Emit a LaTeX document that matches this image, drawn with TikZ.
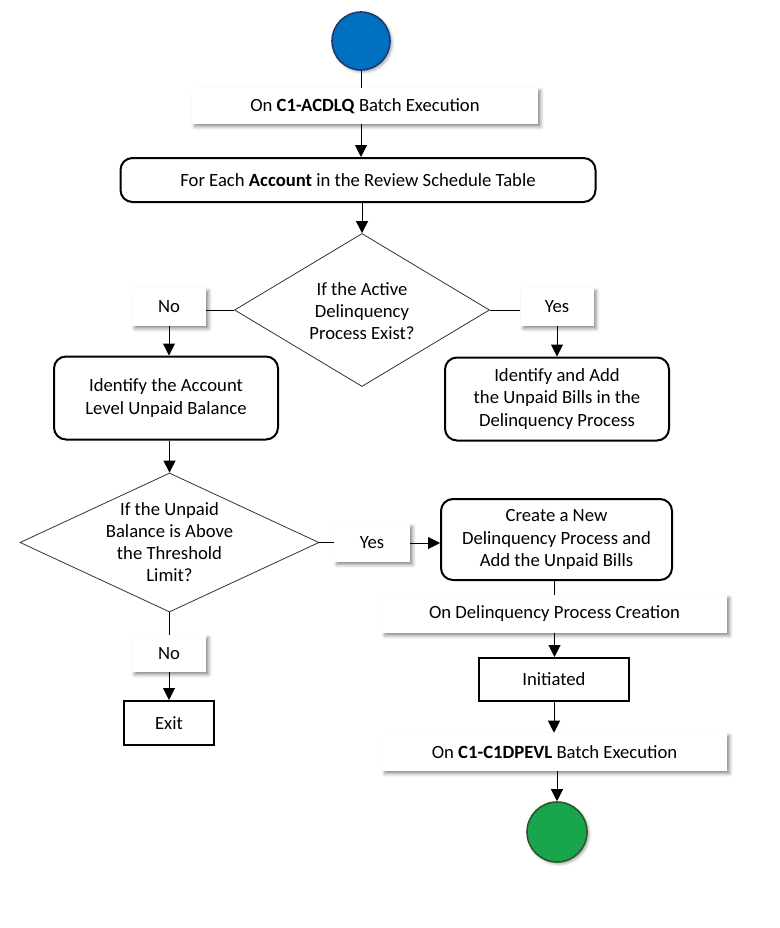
\documentclass[tikz,border=0pt]{standalone}
\usepackage{fontspec}
\setmainfont{Carlito}
\usetikzlibrary{shapes.geometric,arrows.meta,shadows.blur}
\newcommand\pxu[1]{#1*0.75pt}
\definecolor{startblue}{RGB}{0,112,192}
\definecolor{startedge}{RGB}{30,60,110}
\definecolor{endgreen}{RGB}{24,165,75}
\definecolor{endedge}{RGB}{40,90,40}
\begin{document}
\begin{tikzpicture}[x=0.75pt,y=-0.75pt,
  every node/.style={font=\fontsize{14}{16.6}\selectfont, align=center, inner sep=0pt},
  proc/.style={draw=black, line width=1.5pt, rounded corners=9pt, fill=white},
  plainbox/.style={draw=black, line width=1.5pt, fill=white},
  lbl/.style={fill=white, blur shadow={shadow xshift=2pt, shadow yshift=-2pt, shadow blur radius=2.5pt, shadow opacity=45}},
  dec/.style={diamond, draw=black!80, line width=0.6pt, fill=white},
  arr/.style={-{Triangle[length=9pt,width=9pt]}, line width=0.75pt},
  ln/.style={line width=0.75pt}]
\useasboundingbox (0,0) rectangle (779,928);
% nodes
\node[circle, minimum size=\pxu{58}, fill=startblue, draw=startedge, line width=1.2pt,
      blur shadow={shadow xshift=1.5pt, shadow yshift=-1.5pt, shadow blur radius=2pt, shadow opacity=35}] (start) at (361,41) {};
\node[lbl, minimum width=\pxu{346}, minimum height=\pxu{36}] (l1) at (365,106) {On \textbf{C1-ACDLQ} Batch Execution};
\node[proc, minimum width=\pxu{475}, minimum height=\pxu{44}] (foreach) at (358,180) {For Each \textbf{Account} in the Review Schedule Table};
\node[dec, minimum width=\pxu{255}, minimum height=\pxu{153}] (d1) at (362,310) {};
\node (d1t) at (362,311) {If the Active\\Delinquency\\Process Exist?};
\node[lbl, minimum width=\pxu{74}, minimum height=\pxu{38}] (no1) at (169,307) {No};
\node[proc, minimum width=\pxu{224}, minimum height=\pxu{83}] (idacc) at (166,398) {Identify the Account\\Level Unpaid Balance};
\node[lbl, minimum width=\pxu{73}, minimum height=\pxu{38}] (yes1) at (557,307) {Yes};
\node[proc, minimum width=\pxu{224}, minimum height=\pxu{83}] (idadd) at (557,399) {Identify and Add\\the Unpaid Bills in the\\Delinquency Process};
\node[dec, minimum width=\pxu{299}, minimum height=\pxu{139}] (d2) at (169.5,542.5) {};
\node (d2t) at (169.5,542) {If the Unpaid\\Balance is Above\\the Threshold\\Limit?};
\node[lbl, minimum width=\pxu{76}, minimum height=\pxu{38}] (yes2) at (372,543) {Yes};
\node[proc, minimum width=\pxu{231}, minimum height=\pxu{81}] (create) at (556.5,539.5) {Create a New\\Delinquency Process and\\Add the Unpaid Bills};
\node[lbl, minimum width=\pxu{345}, minimum height=\pxu{38}] (l2) at (554.5,614) {On Delinquency Process Creation};
\node[plainbox, minimum width=\pxu{150}, minimum height=\pxu{43}] (init) at (554,679.5) {Initiated};
\node[lbl, minimum width=\pxu{345}, minimum height=\pxu{38}] (l3) at (554.5,752) {On \textbf{C1-C1DPEVL} Batch Execution};
\node[circle, minimum size=\pxu{60}, fill=endgreen, draw=endedge, line width=1.2pt,
      blur shadow={shadow xshift=1.5pt, shadow yshift=-1.5pt, shadow blur radius=2pt, shadow opacity=35}] (end) at (557,832) {};
\node[lbl, minimum width=\pxu{74}, minimum height=\pxu{37}] (no2) at (169,653.5) {No};
\node[plainbox, minimum width=\pxu{90}, minimum height=\pxu{44}] (exit) at (169,723) {Exit};
% connectors
\draw[ln] (start.south) -- (start.south |- l1.north);
\draw[arr] (l1.south -| start.south) -- (start.south |- foreach.north);
\draw[arr] (foreach.south -| d1.north) -- (d1.north);
\draw[ln] (d1.west) -- (d1.west -| no1.east);
\draw[arr] (no1.south) -- (no1.south |- idacc.north);
\draw[ln] (d1.east) -- (d1.east -| yes1.west);
\draw[arr] (yes1.south) -- (yes1.south |- idadd.north);
\draw[arr] (idacc.south -| d2.north) -- (d2.north);
\draw[ln] (d2.east) -- (d2.east -| yes2.west);
\draw[arr] (yes2.east) -- (yes2.east -| create.west);
\draw[ln] (create.south -| l2.north) -- (l2.north);
\draw[arr] (l2.south) -- (l2.south |- init.north);
\draw[arr] (init.south) -- (init.south |- l3.north);
\draw[arr] (l3.south -| end.north) -- (end.north);
\draw[ln] (d2.south) -- (d2.south |- no2.north);
\draw[arr] (no2.south) -- (no2.south |- exit.north);
\end{tikzpicture}
\end{document}
